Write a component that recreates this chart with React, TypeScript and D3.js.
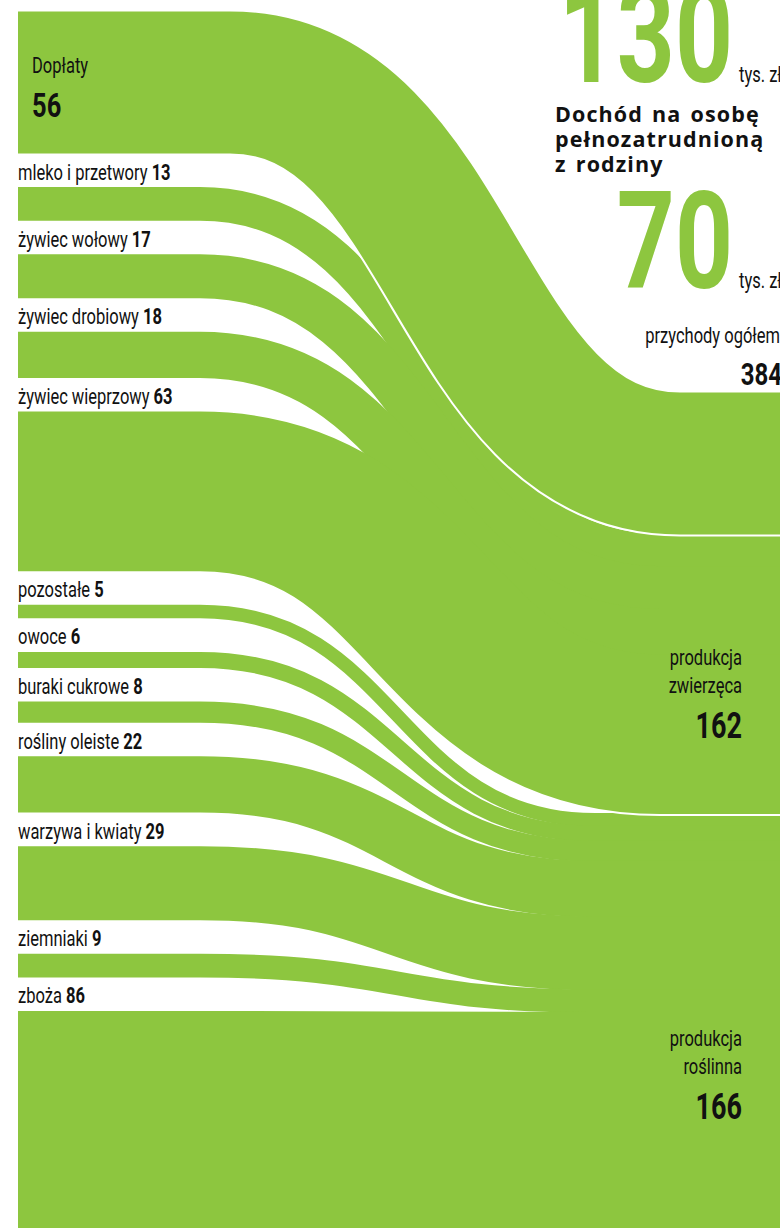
import React from "react";
import * as d3 from "d3";

// ---------- data ----------
const sourceLabels = [
  "Dopłaty",
  "mleko i przetwory",
  "żywiec wołowy",
  "żywiec drobiowy",
  "żywiec wieprzowy",
  "pozostałe",
  "owoce",
  "buraki cukrowe",
  "rośliny oleiste",
  "warzywa i kwiaty",
  "ziemniaki",
  "zboża",
];
const sourceValues = [56, 13, 17, 18, 63, 5, 6, 8, 22, 29, 9, 86];
const sourceGroups = ["dop", "zw", "zw", "zw", "zw", "ro", "ro", "ro", "ro", "ro", "ro", "ro"];

const groupKeys = ["dop", "zw", "ro"];
const groupNameLines = [[], ["produkcja", "zwierzęca"], ["produkcja", "roślinna"]];
const groupTotals = [56, 162, 166];

const totalLabel = "przychody ogółem";
const totalValue = 384;

const incomeValues = [130, 70];
const incomeUnit = "tys. zł";
const headlineLines = ["Dochód na osobę", "pełnozatrudnioną", "z rodziny"];

// ---------- layout ----------
const W = 780;
const H = 1228;
const GREEN = "#8dc63f";
const INK = "#111111";
const NARROW = "Roboto, 'Open Sans', sans-serif";
const SX = 0.75; // horizontal squeeze to mimic a condensed face
const WIDE = "'Open Sans', 'Noto Sans', sans-serif";

const LEFT_X = 18;
const LEFT_TOP = 12;
const RIGHT_TOP = 393;
const BOTTOM = 1229;
// x where each group's curve starts / ends
const curveStart: Record<string, number> = { dop: 230, zw: 200, ro: 200 };
const curveEnd: Record<string, number> = { dop: 680, zw: 660, ro: 595 };
const groupLabelY = [0, 665, 1046];

type Cond = {
  x: number;
  y: number;
  size: number;
  weight?: number;
  anchor?: string;
  fill?: string;
  children: React.ReactNode;
};
function CText({ x, y, size, weight = 400, anchor = "start", fill = INK, children }: Cond) {
  return (
    <text
      transform={`translate(${x},${y}) scale(${SX},1)`}
      fontFamily={NARROW}
      fontSize={size}
      fontWeight={weight}
      textAnchor={anchor}
      fill={fill}
    >
      {children}
    </text>
  );
}

export default function App() {
  const total = d3.sum(sourceValues);
  const k = d3.scaleLinear().domain([0, total]).range([0, BOTTOM - RIGHT_TOP]);
  const gap = (H - LEFT_TOP - k(total)) / (sourceValues.length - 1);

  const nodes = sourceValues.map((v, i) => {
    const before = d3.sum(sourceValues.slice(0, i));
    const ly0 = LEFT_TOP + k(before) + gap * i;
    const ry0 = RIGHT_TOP + k(before);
    const w = k(v);
    const g = sourceGroups[i];
    return { i, v, w, ly0, ly1: ly0 + w, ry0, ry1: ry0 + w, g, x0: curveStart[g], x1: curveEnd[g] };
  });

  const linkPath = (n: (typeof nodes)[number]) => {
    const lc = (n.ly0 + n.ly1) / 2;
    const rc = (n.ry0 + n.ry1) / 2;
    const curve = d3.linkHorizontal()({ source: [n.x0, lc], target: [n.x1, rc] } as any) as string;
    return `M${LEFT_X},${lc}H${n.x0}` + curve.replace(/^M[^C]*/, "") + `H${W + 20}`;
  };

  const groups = groupKeys.map((g, gi) => {
    const ns = nodes.filter((n) => n.g === g);
    return { g, gi, y0: ns[0].ry0, y1: ns[ns.length - 1].ry1 };
  });

  const drawOrder = ["ro", "zw", "dop"];

  return (
    <svg
      width={W}
      height={H}
      viewBox={`0 0 ${W} ${H}`}
      style={{ position: "absolute", left: 0, top: 0, display: "block", overflow: "hidden", background: "#fff" }}
    >
      {drawOrder.map((g) => {
        const ns = nodes.filter((n) => n.g === g);
        return (
          <g key={g}>
            {g !== "ro" &&
              ns.map((n) => (
                <path key={"h" + n.i} d={linkPath(n)} fill="none" stroke="#fff" strokeWidth={n.w + 5} />
              ))}
            {ns.map((n) => (
              <path key={"l" + n.i} d={linkPath(n)} fill="none" stroke={GREEN} strokeWidth={n.w + 1} />
            ))}
          </g>
        );
      })}

      {/* left labels */}
      {nodes.map((n) =>
        n.i === 0 ? (
          <g key={"lab" + n.i}>
            <CText x={32} y={n.ly0 + 61} size={22}>
              {sourceLabels[n.i]}
            </CText>
            <CText x={32} y={n.ly0 + 105} size={34} weight={700}>
              {sourceValues[n.i]}
            </CText>
          </g>
        ) : (
          <CText key={"lab" + n.i} x={LEFT_X} y={n.ly0 - 8} size={22}>
            {sourceLabels[n.i] + " "}
            <tspan fontWeight={700}>{sourceValues[n.i]}</tspan>
          </CText>
        )
      )}

      {/* right group labels */}
      {groups
        .filter((gr) => gr.gi > 0)
        .map((gr) => {
          const by = groupLabelY[gr.gi];
          return (
            <g key={"gl" + gr.g}>
              {groupNameLines[gr.gi].map((t, j) => (
                <CText key={j} x={742} y={by + j * 28} size={22} anchor="end">
                  {t}
                </CText>
              ))}
              <CText x={742} y={by + 73} size={36} weight={700} anchor="end">
                {groupTotals[gr.gi]}
              </CText>
            </g>
          );
        })}

      {/* total */}
      <CText x={780} y={RIGHT_TOP - 50} size={22} anchor="end">
        {totalLabel}
      </CText>
      <CText x={782} y={RIGHT_TOP - 8} size={32} weight={700} anchor="end">
        {totalValue}
      </CText>

      {/* income per person */}
      {incomeValues.map((v, j) => {
        const base = j === 0 ? 82 : 288;
        return (
          <g key={"inc" + j}>
            <CText x={733} y={base} size={135} weight={700} anchor="end" fill={GREEN}>
              {v}
            </CText>
            <CText x={739} y={base} size={22}>
              {incomeUnit}
            </CText>
          </g>
        );
      })}
      {headlineLines.map((t, j) => (
        <text
          key={"hl" + j}
          x={555}
          y={122 + j * 25}
          fontFamily={WIDE}
          fontSize={21.5}
          fontWeight={700}
          letterSpacing={1.1}
          wordSpacing={2.5}
          fill={INK}
        >
          {t}
        </text>
      ))}
    </svg>
  );
}
